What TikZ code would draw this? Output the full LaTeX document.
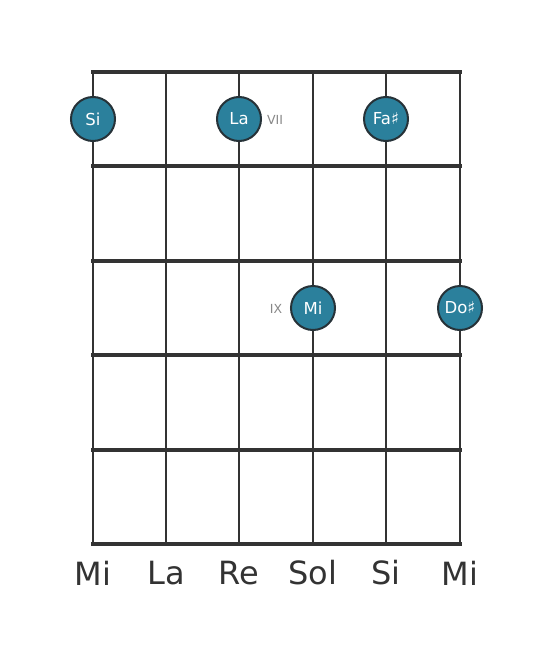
\documentclass[tikz,border=0pt]{standalone}
\usepackage{fontspec}
\setmainfont{DejaVu Sans}
\definecolor{dotfill}{HTML}{2B809C}
\definecolor{dotedge}{HTML}{263238}
\definecolor{gridc}{HTML}{333333}
\definecolor{fretno}{HTML}{888888}
\tikzset{
  fretline/.style={draw=gridc, line width=4.5pt},
  stringline/.style={draw=gridc, line width=2.8pt},
  notedot/.style={circle, fill=dotfill, draw=dotedge, line width=2pt, minimum size=44pt, inner sep=0pt, text=white, font=\fontsize{16.5}{16.5}\selectfont},
  stringlabel/.style={text=gridc, font=\fontsize{32}{32}\selectfont, anchor=center},
  fretlabel/.style={text=fretno, font=\fontsize{12.5}{12.5}\selectfont, anchor=center},
}
\begin{document}
\begin{tikzpicture}[x=1pt,y=-1pt]
\useasboundingbox (0,0) rectangle (553,656);
\fill[white] (0,0) rectangle (553,656);
% strings
\foreach \i/\x in {0/93,1/166,2/239,3/313,4/386,5/460}{
  \coordinate (st\i) at (\x,72);
  \coordinate (sb\i) at (\x,544);
  \draw[stringline] (st\i) -- (sb\i);
}
% frets
\foreach \j/\y in {0/72,1/166,2/261,3/355,4/450,5/544}{
  \coordinate (fl\j) at (91,\y);
  \coordinate (fr\j) at (462,\y);
  \draw[fretline, line cap=butt] (fl\j) -- (fr\j);
}
% notes
\node[notedot] (n1) at (93,119) {Si};
\node[notedot] (n2) at (239,119) {La};
\node[notedot] (n3) at (386,119) {Fa♯};
\node[notedot] (n4) at (313,308) {Mi};
\node[notedot] (n5) at (460,308) {Do♯};
\node[fretlabel] (f7) at (275,120) {VII};
\node[fretlabel] (f9) at (276,309) {IX};
% string names
\node[stringlabel] (l0) at (93,573) {Mi};
\node[stringlabel] (l1) at (166,573) {La};
\node[stringlabel] (l2) at (239,573) {Re};
\node[stringlabel] (l3) at (313,573) {Sol};
\node[stringlabel] (l4) at (386,573) {Si};
\node[stringlabel] (l5) at (460,573) {Mi};
\end{tikzpicture}
\end{document}
